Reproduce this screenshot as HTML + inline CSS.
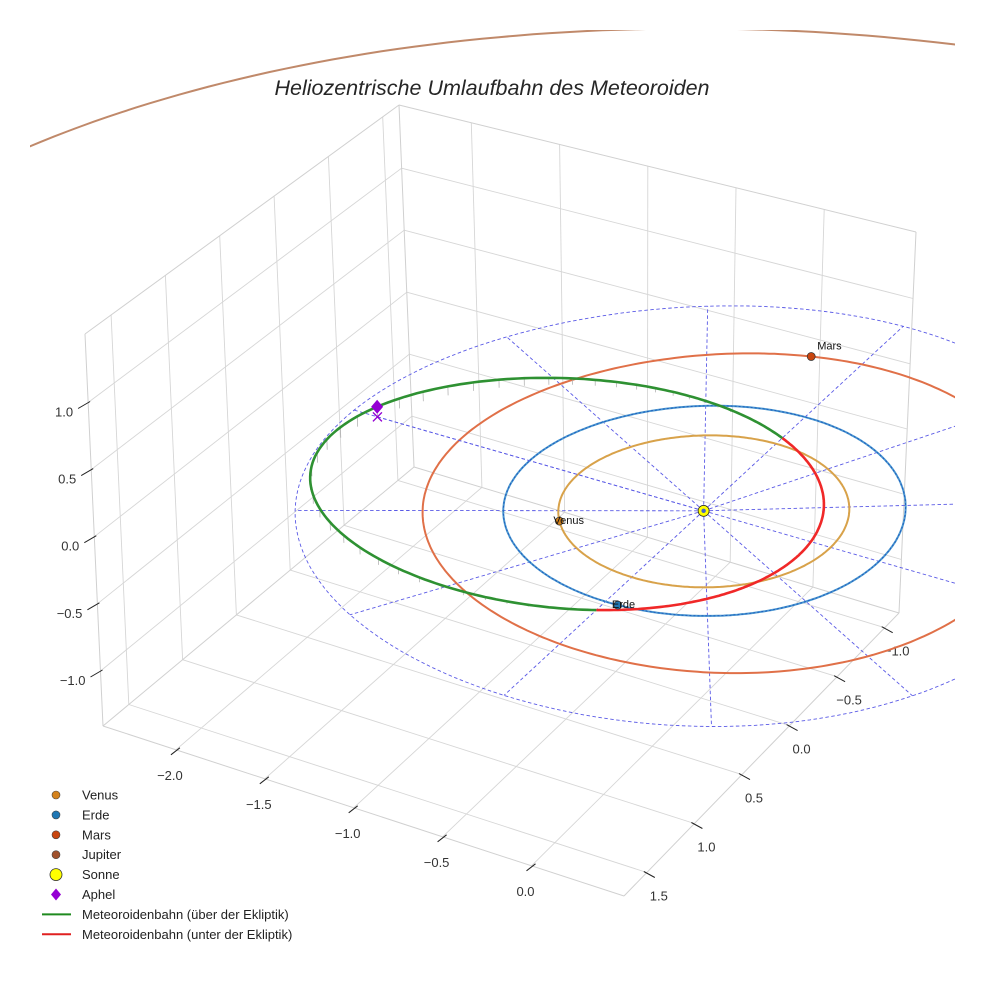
<!DOCTYPE html>
<html><head><meta charset="utf-8"><style>
html,body{margin:0;padding:0;background:#fff;overflow:hidden}
svg{display:block;font-family:"Liberation Sans",sans-serif}
</style></head><body>
<svg id="chart" width="984" height="984" viewBox="0 0 984 984" xmlns="http://www.w3.org/2000/svg">
<defs><clipPath id="clip"><rect x="30" y="30" width="925" height="770"/></clipPath></defs>
<text x="492" y="95" text-anchor="middle" font-size="21.5" font-style="italic" fill="#262626">Heliozentrische Umlaufbahn des Meteoroiden</text>
<g id="grid"></g>
<g id="ticks"></g>
<g id="plot" clip-path="url(#clip)"></g>
<g id="legend"></g>
</svg>
<script>
const xTicks=[-2.0,-1.5,-1.0,-0.5,0.0];
const yTicks=[-1.0,-0.5,0.0,0.5,1.0,1.5];
const zTicks=[-1.0,-0.5,0.0,0.5,1.0];
const xRange=[-2.41,0.52];
const yRange=[-1.15,1.74];
const zRange=[-1.41,1.51];
const planetNames=['Venus','Erde','Mars','Jupiter'];
const planetA=[0.723,1.0,1.524,5.2];
const planetE=[0.007,0.017,0.093,0.048];
const planetPeri=[131,103,149,194];
const planetPos=[143,86,260,180];
const planetColors=['#d8a24a','#4a96cf','#e07048','#c0896a'];
const planetDot=['#d4821c','#1f77b4','#c8450f','#a0522d'];
const metP=0.91, metE=0.535, metPeri=-16.7, metNode=90, metInc=2.4;
const refRadius=2.0;
const spokeAngles=[0,30,60,90,120,150,180,210,240,270,300,330];

const C=[[[[414,467],[399,105]],[[103,726],[85,334]]],[[[899,613],[916,232]],[[624,896],[624,491]]]];
function proj(x,y,z){
  const fx=(x-xRange[0])/(xRange[1]-xRange[0]);
  const fy=(y-yRange[0])/(yRange[1]-yRange[0]);
  const fz=(z-zRange[0])/(zRange[1]-zRange[0]);
  const r=[0,0];
  for(let k=0;k<2;k++){
    const c00=C[0][0][0][k]*(1-fz)+C[0][0][1][k]*fz;
    const c10=C[1][0][0][k]*(1-fz)+C[1][0][1][k]*fz;
    const c01=C[0][1][0][k]*(1-fz)+C[0][1][1][k]*fz;
    const c11=C[1][1][0][k]*(1-fz)+C[1][1][1][k]*fz;
    const a=c00*(1-fx)+c10*fx, b=c01*(1-fx)+c11*fx;
    r[k]=a*(1-fy)+b*fy;
  }
  return r;
}
function projFar(x,y,z){const s=proj(0,0,0);return [s[0]+177*x-95*y, s[1]+0.85*(58*x+97*y)-134*z];}
const NS='http://www.w3.org/2000/svg';
function el(tag,attrs,parent){const e=document.createElementNS(NS,tag);for(const k in attrs)e.setAttribute(k,attrs[k]);parent.appendChild(e);return e;}
function line(p,q,style,parent){return el('line',Object.assign({x1:p[0].toFixed(1),y1:p[1].toFixed(1),x2:q[0].toFixed(1),y2:q[1].toFixed(1)},style),parent);}
const grid=document.getElementById('grid'),ticks=document.getElementById('ticks'),plot=document.getElementById('plot'),legend=document.getElementById('legend');
const [X0,X1]=xRange,[Y0,Y1]=yRange,[Z0,Z1]=zRange;
const gs={stroke:'#d6d6d6','stroke-width':'0.9'};
xTicks.forEach(x=>{const l=line(proj(x,Y0,Z0),proj(x,Y1,Z0),gs,grid);

});
yTicks.forEach(y=>{const l=line(proj(X0,y,Z0),proj(X1,y,Z0),gs,grid);

});
yTicks.forEach(y=>{const l=line(proj(X0,y,Z0),proj(X0,y,Z1),gs,grid);

});
zTicks.forEach(z=>{const l=line(proj(X0,Y0,z),proj(X0,Y1,z),gs,grid);

});
xTicks.forEach(x=>{const l=line(proj(x,Y0,Z0),proj(x,Y0,Z1),gs,grid);

});
zTicks.forEach(z=>{const l=line(proj(X0,Y0,z),proj(X1,Y0,z),gs,grid);

});
const es={stroke:'#d0d0d0','stroke-width':'1'};
[[[X0,Y0,Z0],[X1,Y0,Z0]],[[X0,Y0,Z0],[X0,Y1,Z0]],[[X0,Y1,Z0],[X1,Y1,Z0]],[[X1,Y1,Z0],[X1,Y0,Z0]],
 [[X0,Y1,Z0],[X0,Y1,Z1]],[[X0,Y0,Z0],[X0,Y0,Z1]],[[X1,Y0,Z0],[X1,Y0,Z1]],
 [[X0,Y1,Z1],[X0,Y0,Z1]],[[X0,Y0,Z1],[X1,Y0,Z1]]].forEach(e=>{
  const l=line(proj(...e[0]),proj(...e[1]),es,grid);
  
  });
const ts={stroke:'#222','stroke-width':'1'};
function fmt(v){return (v<0?'\u2212':'')+Math.abs(v).toFixed(1);}
xTicks.forEach(x=>{const p=proj(x,Y1,Z0);line([p[0]-5,p[1]+5],[p[0]+4,p[1]-2],ts,ticks);
 const t=el('text',{x:(p[0]-6).toFixed(1),y:(p[1]+30).toFixed(1),'text-anchor':'middle','font-size':'13',fill:'#333'},ticks);t.textContent=fmt(x);
 
 });
yTicks.forEach(y=>{const p=proj(X1,y,Z0);line([p[0]-3,p[1]-1],[p[0]+8,p[1]+5],ts,ticks);
 const t=el('text',{x:(p[0]+12).toFixed(1),y:(p[1]+28).toFixed(1),'text-anchor':'middle','font-size':'13',fill:'#333'},ticks);t.textContent=fmt(y);
 
 });
zTicks.forEach(z=>{const p=proj(X0,Y1,z);line([p[0]-10,p[1]+6],[p[0]+2,p[1]-1],ts,ticks);
 const t=el('text',{x:(p[0]-15).toFixed(1),y:(p[1]+14).toFixed(1),'text-anchor':'end','font-size':'13',fill:'#333'},ticks);t.textContent=fmt(z);
 
 });
const D=Math.PI/180;
function pts2path(pts){return pts.map((p,i)=>(i?'L':'M')+p[0].toFixed(1)+' '+p[1].toFixed(1)).join('');}
const ds={fill:'none',stroke:'#5a5ae6','stroke-width':'0.9','stroke-dasharray':'3.5 2.5'};
const circ=[];for(let t=0;t<=360;t+=2)circ.push(proj(refRadius*Math.cos(t*D),refRadius*Math.sin(t*D),0));
const rc=el('path',Object.assign({d:pts2path(circ)},ds),plot);


spokeAngles.forEach(a=>{const l=line(proj(0,0,0),proj(refRadius*Math.cos(a*D),refRadius*Math.sin(a*D),0),ds,plot);
 
 });
function orbitR(a,e,peri,t){return a*(1-e*e)/(1+e*Math.cos((t-peri)*D));}
[3,2,0,1].forEach(i=>{
  const P=i===3?projFar:proj;
  const p=[];for(let t=0;t<=360;t+=1){const r=orbitR(planetA[i],planetE[i],planetPeri[i],t);p.push(P(r*Math.cos(t*D),r*Math.sin(t*D),0));}
  const o=el('path',{d:pts2path(p),fill:'none',stroke:planetColors[i],'stroke-width':'2'},plot);
  
  
  if(i===1){const o2=el('path',{d:pts2path(p),fill:'none',stroke:'#1f5fc0','stroke-width':'1','stroke-dasharray':'2 2'},plot);
    
    }
});
function metPoint(t){const r=metP/(1+metE*Math.cos((t-metPeri)*D));return [r*Math.cos(t*D),r*Math.sin(t*D),r*Math.sin(metInc*D)*Math.sin((t-metNode)*D)];}
for(let t=0;t<360;t+=4){const m=metPoint(t);if(m[2]>0){const l=line(proj(m[0],m[1],m[2]),proj(m[0],m[1],0),{stroke:'#aaa','stroke-width':'0.7'},plot);
 
 }}
let seg=[],segSign=null;
function flush(){if(seg.length>1){const s=el('path',{d:pts2path(seg),fill:'none',stroke:segSign>0?'#2e9132':'#f02828','stroke-width':'2.6','stroke-linejoin':'round'},plot);
 
 }}
for(let t=-180;t<=180;t+=1){const m=metPoint(t);const sg=m[2]>=0?1:-1;const p=proj(...m);
  if(segSign!==null&&sg!==segSign){seg.push(p);flush();seg=[p];}else seg.push(p);segSign=sg;}
flush();
const aph=metPoint(metNode+90);
const ag=proj(aph[0],aph[1],0),ap=proj(...aph);
const al=line(ag,proj(0,0,0),{stroke:'#5a5ae6','stroke-width':'0.9','stroke-dasharray':'3.5 2.5'},plot);


const ax=el('path',{d:`M${ag[0]-4.5} ${ag[1]-4.5}L${ag[0]+4.5} ${ag[1]+4.5}M${ag[0]-4.5} ${ag[1]+4.5}L${ag[0]+4.5} ${ag[1]-4.5}`,stroke:'#9400d3','stroke-width':'1.3'},plot);


const ad=el('path',{d:`M${ap[0]} ${ap[1]-7}L${ap[0]+6} ${ap[1]}L${ap[0]} ${ap[1]+7}L${ap[0]-6} ${ap[1]}Z`,fill:'#9400d3'},plot);


[0,1,2,3].forEach(i=>{const r=orbitR(planetA[i],planetE[i],planetPeri[i],planetPos[i]);
  const P=i===3?projFar:proj;
  const p=P(r*Math.cos(planetPos[i]*D),r*Math.sin(planetPos[i]*D),0);
  const c=el('circle',{cx:p[0].toFixed(1),cy:p[1].toFixed(1),r:'4',fill:planetDot[i],stroke:'#333','stroke-width':'0.7'},plot);
  
  
  const t=el('text',{x:(p[0]-6).toFixed(1),y:(p[1]+3).toFixed(1),'font-size':'11',fill:'#111'},plot);
  if(i===2){t.setAttribute('x',(p[0]+6).toFixed(1));t.setAttribute('y',(p[1]-7).toFixed(1));}
  t.textContent=planetNames[i];
  
  });
const sp=proj(0,0,0);
const sun=el('circle',{cx:sp[0],cy:sp[1],r:'5.5',fill:'#ffff00',stroke:'#222','stroke-width':'0.8'},plot);


const sunIn=el('circle',{cx:sp[0],cy:sp[1],r:'2.2',fill:'#4466cc'},plot);


const legLabels=['Venus','Erde','Mars','Jupiter','Sonne','Aphel','Meteoroidenbahn (über der Ekliptik)','Meteoroidenbahn (unter der Ekliptik)'];
legLabels.forEach((lab,k)=>{const y=795+k*19.9;
  const g=el('g',{},legend);
  
  
  if(k<4){el('circle',{cx:56,cy:y,r:'4',fill:planetDot[k],stroke:'#444','stroke-width':'0.6'},g);}
  else if(k===4){el('circle',{cx:56,cy:y,r:'6',fill:'#ffff00',stroke:'#333','stroke-width':'0.8'},g);}
  else if(k===5){el('path',{d:`M56 ${y-6}L61 ${y}L56 ${y+6}L51 ${y}Z`,fill:'#9400d3'},g);}
  else {el('line',{x1:42,y1:y,x2:71,y2:y,stroke:k===6?'#1f8a1f':'#e02020','stroke-width':'2'},g);}
  const t=el('text',{x:82,y:y+4.5,'font-size':'13',fill:'#222'},g);t.textContent=lab;});
</script>
</body></html>
